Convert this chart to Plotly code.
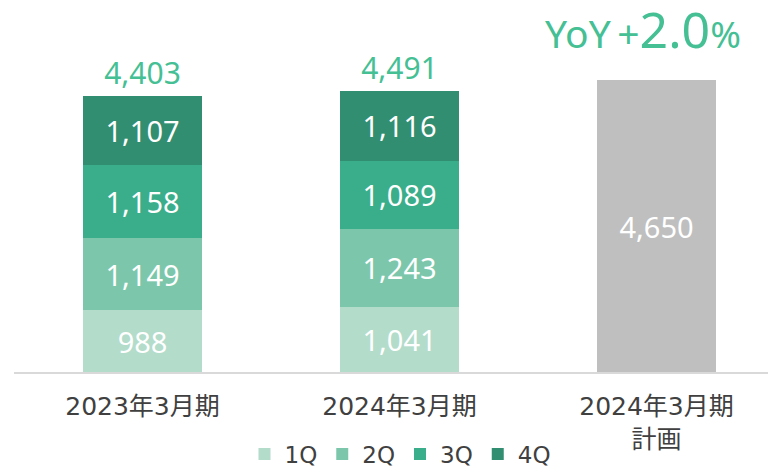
import plotly.graph_objects as go

categories = ["2023年3月期", "2024年3月期", "2024年3月期<br>計画"]
q1 = [988, 1041, None]
q2 = [1149, 1243, None]
q3 = [1158, 1089, None]
q4 = [1107, 1116, None]
plan = [None, None, 4650]
totals = [4403, 4491, None]
series_names = ["1Q", "2Q", "3Q", "4Q"]
colors = ["#b3dccb", "#7cc7ab", "#3aae8a", "#318e70"]

NUM_FONT = "Noto Sans, Noto Sans CJK JP, sans-serif"
JP_FONT = "DejaVu Sans, Noto Sans CJK JP, sans-serif"

W, H = 768, 462  # page body has an 8px margin

fig = go.Figure()
for name, vals, col in zip(series_names, [q1, q2, q3, q4], colors):
    fig.add_trace(go.Bar(
        x=categories, y=vals, name=name, marker=dict(color=col, line=dict(width=0)),
        width=0.46, texttemplate="%{y:,}", textposition="inside",
        insidetextanchor="middle",
        textfont=dict(color="white", size=29, family=NUM_FONT),
    ))
fig.add_trace(go.Bar(
    x=categories, y=plan, name="計画", showlegend=False,
    marker=dict(color="#bfbfbf", line=dict(width=0)), width=0.46,
    texttemplate="%{y:,}", textposition="inside", insidetextanchor="middle",
    textfont=dict(color="white", size=29, family=NUM_FONT),
))
fig.add_trace(go.Scatter(
    x=categories, y=totals, mode="markers+text", showlegend=False,
    marker=dict(size=5, opacity=0), hoverinfo="skip",
    texttemplate="%{y:,}", textposition="top center",
    textfont=dict(color="#45bf94", size=30, family=NUM_FONT),
))

fig.add_annotation(
    xref="paper", yref="paper", x=(734 - 6) / 762, y=1.0, xanchor="right", yanchor="top",
    text="<span style='font-size:39px'>YoY&#8201;+</span><span style='font-size:50px'>2.0</span><span style='font-size:37px'>%</span>",
    showarrow=False, font=dict(color="#45bf94", family=NUM_FONT),
    yshift=14, borderpad=0,
)

fig.update_layout(
    barmode="stack", width=W, height=H,
    margin=dict(l=6, r=0, t=0, b=H - 364),
    plot_bgcolor="white", paper_bgcolor="white",
    xaxis=dict(range=[-0.5, 2.465], showline=True, linecolor="#d9d9d9", linewidth=2,
               ticks="", tickfont=dict(size=25, color="#404040", family=JP_FONT),
               showgrid=False, zeroline=False, automargin=False, ticklabelstandoff=11),
    yaxis=dict(range=[0, 5805], visible=False, showgrid=False, zeroline=False,
               automargin=False),
    legend=dict(orientation="h", xref="container", yref="container",
                x=(400 - 8) / W, xanchor="center", y=16 / H, yanchor="middle",
                font=dict(size=23, color="#404040", family=JP_FONT),
                itemwidth=30, traceorder="normal"),
)
fig.write_html("out.html")
